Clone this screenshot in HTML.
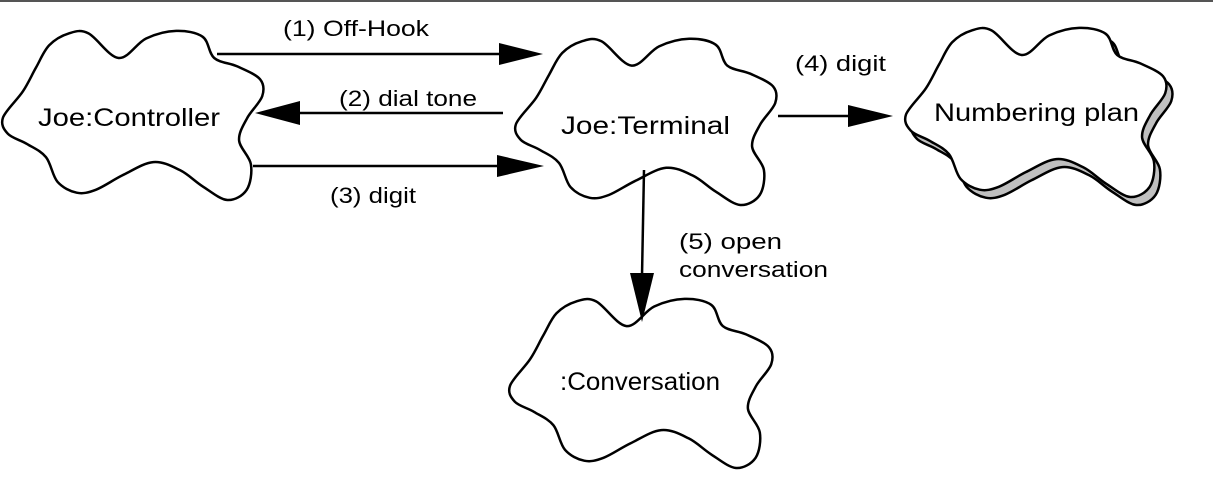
<!DOCTYPE html>
<html><head><meta charset="utf-8"><style>
html,body{margin:0;padding:0;background:#fff;}
svg{display:block;}
text{font-family:"Liberation Sans",Arial,sans-serif;fill:#000;}
</style></head><body>
<svg id="s" width="1213" height="483" viewBox="0 0 1213 483" xmlns="http://www.w3.org/2000/svg">
<rect x="0" y="0" width="1213" height="2" fill="#555"/>
<g id="clouds"></g>
<g stroke="#000" stroke-width="2.5">
<line x1="217" y1="54" x2="505" y2="54"/>
<line x1="503" y1="113" x2="295" y2="113"/>
<line x1="253" y1="166" x2="500" y2="166"/>
<line x1="778" y1="116" x2="850" y2="116"/>
<line x1="644" y1="170" x2="642" y2="276"/>
</g>
<g fill="#000">
<polygon points="543,54 499,43 499,65"/>
<polygon points="255,113 300,101 300,125"/>
<polygon points="544,166 497,155 497,177"/>
<polygon points="893,116 848,105 848,127"/>
<polygon points="642,322 630,273 654,273"/>
</g>
<g font-size="22">
<text x="283" y="36" textLength="146" lengthAdjust="spacingAndGlyphs">(1) Off-Hook</text>
<text x="339" y="106" textLength="138" lengthAdjust="spacingAndGlyphs">(2) dial tone</text>
<text x="330" y="203" textLength="86" lengthAdjust="spacingAndGlyphs">(3) digit</text>
<text x="795" y="71" textLength="91" lengthAdjust="spacingAndGlyphs">(4) digit</text>
<text x="679" y="249" textLength="103" lengthAdjust="spacingAndGlyphs">(5) open</text>
<text x="679" y="277" textLength="149" lengthAdjust="spacingAndGlyphs">conversation</text>
</g>
<g font-size="25">
<text x="38" y="126" textLength="182" lengthAdjust="spacingAndGlyphs">Joe:Controller</text>
<text x="561" y="134" textLength="169" lengthAdjust="spacingAndGlyphs">Joe:Terminal</text>
<text x="934" y="121" textLength="205" lengthAdjust="spacingAndGlyphs">Numbering plan</text>
<text x="560" y="390" textLength="160" lengthAdjust="spacingAndGlyphs">:Conversation</text>
</g>
</svg>
<script>
var T=[[0.004,0.515],[0.08,0.36],[0.13,0.22],[0.18,0.09],[0.255,0.02],[0.33,0.02],[0.445,0.165],[0.55,0.05],[0.665,0.005],[0.766,0.04],[0.81,0.165],[0.898,0.214],[0.985,0.29],[0.993,0.39],[0.935,0.52],[0.905,0.65],[0.95,0.79],[0.934,0.94],[0.86,1.0],[0.766,0.92],[0.68,0.825],[0.577,0.777],[0.46,0.855],[0.358,0.94],[0.285,0.957],[0.212,0.893],[0.168,0.748],[0.095,0.67],[0.022,0.61]];
function path(x,y,w,h){
 var P=T.map(function(p){return [x+p[0]*w,y+p[1]*h];});
 var n=P.length,d="M"+P[0][0].toFixed(1)+","+P[0][1].toFixed(1);
 for(var i=0;i<n;i++){
  var p0=P[(i-1+n)%n],p1=P[i],p2=P[(i+1)%n],p3=P[(i+2)%n];
  var c1=[p1[0]+(p2[0]-p0[0])/6,p1[1]+(p2[1]-p0[1])/6];
  var c2=[p2[0]-(p3[0]-p1[0])/6,p2[1]-(p3[1]-p1[1])/6];
  d+="C"+c1[0].toFixed(1)+","+c1[1].toFixed(1)+" "+c2[0].toFixed(1)+","+c2[1].toFixed(1)+" "+p2[0].toFixed(1)+","+p2[1].toFixed(1);
 }
 return d+"Z";
}
var g=document.getElementById("clouds"),NS="http://www.w3.org/2000/svg";
function add(d,fill){var e=document.createElementNS(NS,"path");e.setAttribute("d",d);e.setAttribute("fill",fill);e.setAttribute("stroke","#000");e.setAttribute("stroke-width","2.5");g.appendChild(e);}
add(path(2,30,262,170),"#fff");
add(path(515,38,262,167),"#fff");
add(path(911,35,262,170),"#c0c0c0");
add(path(905,27,262,170),"#fff");
add(path(509,298,264,170),"#fff");
</script>
</body></html>
